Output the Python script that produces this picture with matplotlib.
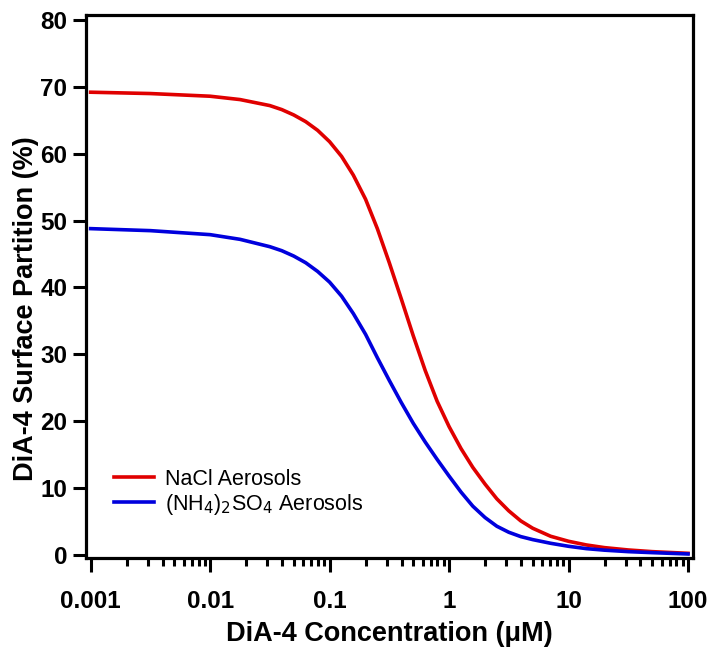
import matplotlib
matplotlib.use('Agg')
import matplotlib.pyplot as plt
from matplotlib.ticker import LogLocator, FixedLocator, FuncFormatter, NullFormatter

plt.rcParams['font.family'] = ['Liberation Sans', 'DejaVu Sans']

# values
conc = [0.001, 0.00316, 0.01, 0.0178, 0.0316, 0.0398, 0.0501, 0.0631, 0.0794,
        0.1, 0.126, 0.158, 0.2, 0.251, 0.316, 0.398, 0.501, 0.631, 0.794,
        1.0, 1.26, 1.58, 2.0, 2.51, 3.16, 3.98, 5.01, 7.08, 10, 14.1, 20,
        31.6, 50.1, 100]
nacl = [69.2, 69.0, 68.6, 68.1, 67.2, 66.6, 65.8, 64.8, 63.5,
        61.8, 59.6, 56.8, 53.2, 48.8, 43.7, 38.3, 32.8, 27.6, 23.0,
        19.2, 15.9, 13.1, 10.6, 8.4, 6.6, 5.1, 4.0, 2.8, 2.05, 1.5, 1.1,
        0.75, 0.5, 0.25]
amsul = [48.8, 48.5, 47.9, 47.2, 46.1, 45.5, 44.7, 43.7, 42.4,
         40.8, 38.7, 36.1, 33.0, 29.5, 26.1, 22.8, 19.7, 16.9, 14.3,
         11.8, 9.4, 7.3, 5.6, 4.3, 3.4, 2.75, 2.3, 1.75, 1.3, 0.95, 0.72,
         0.5, 0.35, 0.15]
xticks = [0.001, 0.01, 0.1, 1, 10, 100]
yticks = [0, 10, 20, 30, 40, 50, 60, 70, 80]

fig = plt.figure(figsize=(7.13, 6.48), dpi=100)
ax = fig.add_axes([0.1206, 0.1389, 0.8514, 0.838])

ax.plot(conc, nacl, color='#e00000', lw=2.6, label='NaCl Aerosols')
ax.plot(conc, amsul, color='#0000dd', lw=2.6, label='(NH$_4$)$_2$SO$_4$ Aerosols')

ax.set_xscale('log')
ax.set_xlim(10**-3.039, 10**2.042)
ax.set_ylim(-0.45, 80.75)

ax.xaxis.set_major_locator(FixedLocator(xticks))
ax.xaxis.set_major_formatter(FuncFormatter(lambda v, p: '%g' % v))
ax.xaxis.set_minor_locator(LogLocator(base=10, subs=range(2, 10), numticks=20))
ax.xaxis.set_minor_formatter(NullFormatter())
ax.yaxis.set_major_locator(FixedLocator(yticks))

for s in ax.spines.values():
    s.set_linewidth(2.3)

ax.tick_params(axis='both', which='major', direction='out', width=2.2,
               labelsize=17.5)
ax.tick_params(axis='x', which='major', length=10, pad=13)
ax.tick_params(axis='y', which='major', length=9.5, pad=4)
ax.tick_params(axis='x', which='minor', direction='out', length=5.5, width=2.2)
for lab in ax.get_xticklabels() + ax.get_yticklabels():
    lab.set_fontweight('bold')

ax.set_xlabel('DiA-4 Concentration (\u03bcM)', fontsize=19.5, fontweight='bold',
              labelpad=6)
ax.set_ylabel('DiA-4 Surface Partition (%)', fontsize=19.5, fontweight='bold')
ax.yaxis.set_label_coords(-0.078, 0.459)

ax.legend(loc='lower left', bbox_to_anchor=(0.015, 0.04), frameon=False,
          fontsize=15.5, handlelength=1.85, handletextpad=0.5, labelspacing=0.1)

fig.savefig('out.png', dpi=100)
